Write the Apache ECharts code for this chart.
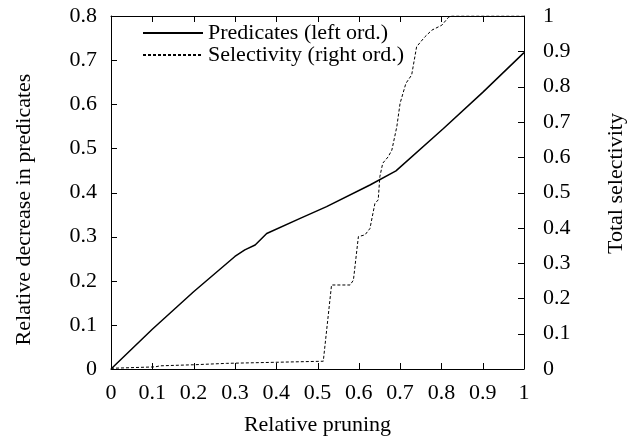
<!DOCTYPE html>
<html>
<head>
<meta charset="UTF-8">
<title>Pruning</title>
<script src="https://cdn.jsdelivr.net/npm/echarts@6/dist/echarts.min.js"></script>
<style>
  html, body { margin: 0; padding: 0; background: #fff; }
  #chart { width: 637px; height: 441px; }
</style>
</head>
<body>
<div id="chart"></div>
<script>
// Predicates (left ordinate): [relative pruning, relative decrease]
let predicates = [
    [0, 0], [0.1, 0.09], [0.2, 0.175], [0.3, 0.255], [0.324, 0.27], [0.349, 0.281],
    [0.377, 0.307], [0.458, 0.3415], [0.522, 0.368], [0.627, 0.417], [0.69, 0.449],
    [0.805, 0.545], [0.9, 0.627], [1, 0.717]
];

// Selectivity (right ordinate)
let selectivity = [
    [0, 0.002], [0.107, 0.006], [0.119, 0.009], [0.2, 0.012], [0.28, 0.016],
    [0.514, 0.022], [0.534, 0.238], [0.579, 0.238], [0.587, 0.252], [0.599, 0.375],
    [0.615, 0.38], [0.627, 0.398], [0.639, 0.469], [0.647, 0.479], [0.651, 0.545],
    [0.658, 0.583], [0.671, 0.601], [0.68, 0.62], [0.692, 0.686], [0.70, 0.753],
    [0.714, 0.809], [0.728, 0.833], [0.74, 0.913], [0.76, 0.941], [0.777, 0.96],
    [0.801, 0.974], [0.817, 0.996], [0.825, 1], [1, 1]
];

// tick positions (gnuplot style ticks on all four sides, pointing inwards)
let xTicks = [0, 0.1, 0.2, 0.3, 0.4, 0.5, 0.6, 0.7, 0.8, 0.9, 1];
let leftTicks = [0, 0.1, 0.2, 0.3, 0.4, 0.5, 0.6, 0.7, 0.8];
let rightTicks = [0, 0.1, 0.2, 0.3, 0.4, 0.5, 0.6, 0.7, 0.8, 0.9, 1];

let font = '"Liberation Serif", "DejaVu Serif", serif';
let fs = 22;
let tickLen = 6;
let chart = echarts.init(document.getElementById('chart'));

let nameStyle = { color: '#000', fontFamily: font, fontSize: fs };

function axis(extra) {
    return Object.assign({
        type: 'value',
        axisLine: { show: true, onZero: false, lineStyle: { color: '#000', width: 1 } },
        axisTick: { show: false },
        splitLine: { show: false }
    }, extra);
}

function seg(x1, y1, x2, y2) {
    return {
        type: 'line',
        shape: { x1: x1, y1: y1, x2: x2, y2: y2 },
        style: { stroke: '#000', lineWidth: 1 }
    };
}

// ticks drawn through the axis scales
function tickSeries(data, yIndex, render) {
    return {
        type: 'custom',
        xAxisIndex: 0, yAxisIndex: yIndex,
        data: data.map(v => [v]),
        silent: true,
        clip: false,
        z: 10,
        renderItem: render
    };
}

let option = {
    animation: false,
    grid: { left: 111, right: 113, top: 16, bottom: 72, outerBoundsMode: 'none' },
    legend: {
        orient: 'vertical',
        left: 137,
        top: 17,
        itemWidth: 60,
        itemHeight: 10,
        itemGap: 0,
        itemStyle: { opacity: 0 },
        textStyle: { color: '#000', fontFamily: font, fontSize: fs, lineHeight: 22 },
        data: ['Predicates (left ord.)', 'Selectivity (right ord.)']
    },
    xAxis: [
        axis({
            min: 0, max: 1, interval: 0.1, position: 'bottom',
            name: 'Relative pruning', nameLocation: 'middle', nameGap: 45,
            nameTextStyle: nameStyle,
            axisLabel: { color: '#000', fontFamily: font, fontSize: fs, margin: 13 }
        }),
        axis({ min: 0, max: 1, interval: 0.1, position: 'top', axisLabel: { show: false } })
    ],
    yAxis: [
        axis({
            min: 0, max: 0.8, interval: 0.1, position: 'left',
            name: 'Relative decrease in predicates', nameLocation: 'middle', nameGap: 76,
            nameRotate: 90,
            nameTextStyle: Object.assign({}, nameStyle, { padding: [0, 34, 0, 0] }),
            axisLabel: { color: '#000', fontFamily: font, fontSize: fs, margin: 14 }
        }),
        axis({
            min: 0, max: 1, interval: 0.1, position: 'right',
            name: 'Total selectivity', nameLocation: 'middle', nameGap: 81,
            nameRotate: 90,
            nameTextStyle: Object.assign({}, nameStyle, { padding: [0, 0, 0, 18] }),
            axisLabel: { color: '#000', fontFamily: font, fontSize: fs, margin: 19 }
        })
    ],
    series: [
        {
            name: 'Predicates (left ord.)',
            type: 'line',
            xAxisIndex: 0, yAxisIndex: 0,
            data: predicates,
            symbol: 'none',
            lineStyle: { color: '#000', width: 1.5 },
            itemStyle: { color: '#000' }
        },
        {
            name: 'Selectivity (right ord.)',
            type: 'line',
            xAxisIndex: 0, yAxisIndex: 1,
            data: selectivity,
            symbol: 'none',
            lineStyle: { color: '#000', width: 1, type: [3, 2] },
            itemStyle: { color: '#000' }
        },
        tickSeries(xTicks, 0, (params, api) => {
            let b = api.coord([api.value(0), 0]);
            let t = api.coord([api.value(0), 0.8]);
            let x = Math.round(b[0]) + 0.5;
            return {
                type: 'group',
                children: [seg(x, b[1], x, b[1] - tickLen), seg(x, t[1], x, t[1] + tickLen)]
            };
        }),
        tickSeries(leftTicks, 0, (params, api) => {
            let p = api.coord([0, api.value(0)]);
            let y = Math.round(p[1]) + 0.5;
            return seg(p[0], y, p[0] + tickLen, y);
        }),
        tickSeries(rightTicks, 1, (params, api) => {
            let p = api.coord([1, api.value(0)]);
            let y = Math.round(p[1]) + 0.5;
            return seg(p[0], y, p[0] - tickLen, y);
        })
    ]
};

chart.setOption(option);
</script>
</body>
</html>
